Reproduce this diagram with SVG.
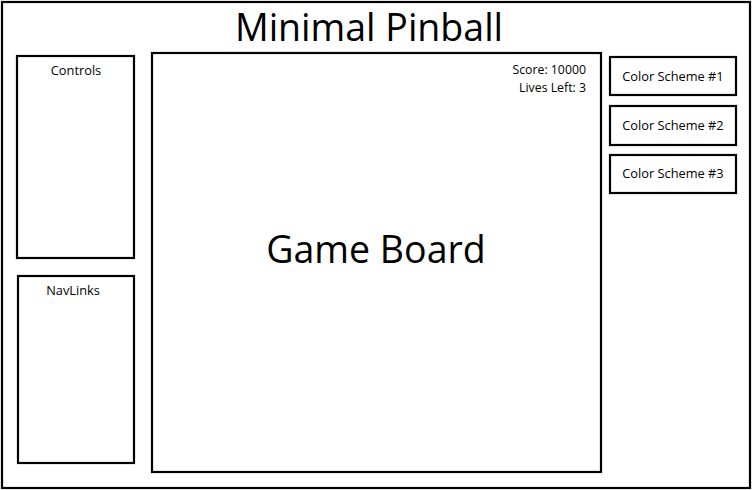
<svg xmlns="http://www.w3.org/2000/svg" width="753" height="490" viewBox="0 0 753 490">
<style>
.box{fill:#fff;stroke:#000;stroke-width:2.2}
.t{font-family:"Open Sans","Liberation Sans",sans-serif;fill:#000}
.s{font-size:12.8px}
.big{font-size:37.5px}
</style>
<rect width="753" height="490" fill="#fff"/>
<g id="frame"><rect class="box" x="2" y="2" width="748" height="486"/>
<text class="t big" x="369" y="41" text-anchor="middle">Minimal Pinball</text></g>
<g id="controls"><rect class="box" x="17" y="56" width="117" height="202"/>
<text class="t s" x="76" y="75" text-anchor="middle">Controls</text></g>
<g id="navlinks"><rect class="box" x="18" y="276" width="116" height="187"/>
<text class="t s" x="73" y="295" text-anchor="middle">NavLinks</text></g>
<g id="gameboard"><rect class="box" x="152" y="53" width="449" height="419"/>
<text class="t" font-size="12.3" x="586" y="73.5" text-anchor="end">Score: 10000</text>
<text class="t" font-size="12.3" x="586" y="91.5" text-anchor="end">Lives Left: 3</text>
<text class="t big" x="376" y="263" text-anchor="middle">Game Board</text></g>
<g id="scheme1"><rect class="box" x="610" y="57" width="126" height="38"/>
<text class="t s" x="673" y="81" text-anchor="middle">Color Scheme #1</text></g>
<g id="scheme2"><rect class="box" x="610" y="106" width="126" height="39"/>
<text class="t s" x="673" y="130" text-anchor="middle">Color Scheme #2</text></g>
<g id="scheme3"><rect class="box" x="610" y="155" width="126" height="38"/>
<text class="t s" x="673" y="178" text-anchor="middle">Color Scheme #3</text></g>
<g id="connectors"></g>
</svg>
